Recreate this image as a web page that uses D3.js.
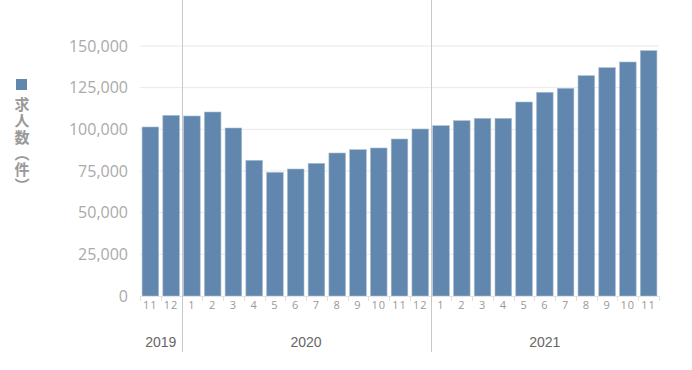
<!DOCTYPE html>
<html><head><meta charset="utf-8">
<script src="https://cdn.jsdelivr.net/npm/d3@7"></script>
<style>body{margin:0;background:#fff}svg{display:block}</style>
</head><body><svg id="c" width="692" height="370"></svg>
<script>
const months = ["11","12","1","2","3","4","5","6","7","8","9","10","11","12","1","2","3","4","5","6","7","8","9","10","11"];
const years = ["2019","2019","2020","2020","2020","2020","2020","2020","2020","2020","2020","2020","2020","2020","2021","2021","2021","2021","2021","2021","2021","2021","2021","2021","2021"];
const values = [101400,108400,108000,110400,100800,81400,74200,76200,79600,85800,87800,88800,94200,100200,102200,105200,106600,106600,116400,122200,124600,132200,137000,140400,147200];
const yTicks = [0,25000,50000,75000,100000,125000,150000];
const seriesName = "求人数（件）";

const svg = d3.select("#c");
const keys = months.map((m,i)=>i);
const x = d3.scaleBand().domain(keys).range([140,659]).paddingInner(0.2).paddingOuter(0.1);
const y = d3.scaleLinear().domain([0,150000]).range([296,46]);
const font = "'Noto Sans CJK JP','Noto Sans',sans-serif";

// grid
svg.append("g").selectAll("line").data(yTicks.slice(1)).join("line")
  .attr("x1",140).attr("x2",659).attr("y1",d=>y(d)).attr("y2",d=>y(d))
  .attr("stroke","#e8e8e8").attr("stroke-width",1);

// y labels
const yAxis = svg.append("g").attr("transform","translate(140,0)")
  .call(d3.axisLeft(y).tickValues(yTicks).tickSize(0).tickPadding(12).tickFormat(d3.format(",")));
yAxis.select(".domain").remove();
yAxis.selectAll("text").attr("fill","#aaa").attr("font-size",16).attr("font-family","'Open Sans',sans-serif");

// bars
svg.append("g").selectAll("rect").data(values).join("rect")
  .attr("x",(d,i)=>x(i)).attr("width",x.bandwidth())
  .attr("y",d=>y(d)).attr("height",d=>y(0)-y(d))
  .attr("fill","#6287ae").attr("stroke","#a9bdd2").attr("stroke-width",0.6);

// x axis baseline + ticks
const step = x.step();
svg.append("line").attr("x1",140).attr("x2",659).attr("y1",296.5).attr("y2",296.5).attr("stroke","#e4e4e4");
svg.append("g").selectAll("line").data(d3.range(months.length+1)).join("line")
  .attr("x1",i=>Math.round(x(0)-x.paddingInner()*step/2 + i*step)+0.5)
  .attr("x2",i=>Math.round(x(0)-x.paddingInner()*step/2 + i*step)+0.5)
  .attr("y1",296).attr("y2",301).attr("stroke","#e0e0e0");

// month labels
svg.append("g").selectAll("text").data(months).join("text")
  .attr("x",(d,i)=>x(i)+x.bandwidth()/2).attr("y",309)
  .attr("text-anchor","middle").attr("font-size",11).attr("fill","#999")
  .attr("font-family","'Open Sans',sans-serif").attr("letter-spacing",1).text(d=>d);

// year groups
const groups = d3.groups(years.map((yv,i)=>({yv,i})), d=>d.yv);
const gx0 = i => x(i) - x.paddingInner()*step/2;
groups.forEach(([yr,items],gi)=>{
  const first = items[0].i, last = items[items.length-1].i;
  const left = gi===0 ? 140 : gx0(first);
  const right = gi===groups.length-1 ? 659 : gx0(last)+step;
  svg.append("text").attr("x",(left+right)/2).attr("y",347)
    .attr("text-anchor","middle").attr("font-size",14).attr("fill","#666")
    .attr("font-family","'Liberation Sans',Arial,sans-serif").text(yr);
  if (gi>0) {
    const sx = Math.round(left)+0.5;
    svg.append("line").attr("x1",sx).attr("x2",sx).attr("y1",0).attr("y2",352)
      .attr("stroke","#c8c8c8").attr("stroke-width",1);
  }
});

// legend
svg.append("rect").attr("x",16).attr("y",79).attr("width",11).attr("height",11).attr("fill","#6287ae");
svg.append("text").attr("x",22).attr("y",97)
  .attr("writing-mode","vertical-rl").attr("font-size",15).attr("font-weight","bold")
  .attr("letter-spacing",1.2)
  .attr("fill","#999").attr("font-family",font).text(seriesName);
</script></body></html>
